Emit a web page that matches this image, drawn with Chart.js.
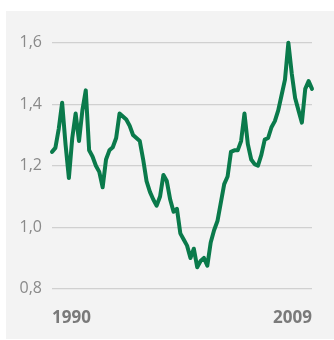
<!DOCTYPE html>
<html>
<head>
<meta charset="utf-8">
<script src="https://cdn.jsdelivr.net/npm/chart.js@4"></script>
<style>
  html, body { margin: 0; padding: 0; background: #ffffff; }
  #panel {
    position: absolute; left: 6px; top: 11px;
    width: 328px; height: 328px;
    background: #f3f3f3;
  }
  #chart { display: block; }
</style>
</head>
<body>
<div id="panel"><canvas id="chart" width="328" height="328"></canvas></div>
<script>
// Quarterly series, 1990 Q1 through 2009 Q2
const years = [1990, 2009];
const quarters = [];
for (let y = years[0]; y <= years[1]; y++) {
  for (let q = 1; q <= 4; q++) {
    if (y === years[1] && q > 2) break;
    quarters.push(y + ' Q' + q);
  }
}

const values = [
  1.245, 1.258, 1.32, 1.405, 1.27, 1.16, 1.29, 1.37, 1.28, 1.38,
  1.445, 1.25, 1.23, 1.20, 1.18, 1.13, 1.22, 1.25, 1.26, 1.29,
  1.37, 1.36, 1.35, 1.33, 1.30, 1.29, 1.28, 1.22, 1.15, 1.115,
  1.09, 1.07, 1.10, 1.17, 1.15, 1.09, 1.05, 1.06, 0.98, 0.96,
  0.94, 0.90, 0.93, 0.87, 0.89, 0.90, 0.875, 0.95, 0.99, 1.02,
  1.08, 1.14, 1.165, 1.245, 1.25, 1.25, 1.28, 1.37, 1.27, 1.22,
  1.205, 1.20, 1.235, 1.285, 1.29, 1.325, 1.345, 1.38, 1.43, 1.48,
  1.60, 1.50, 1.42, 1.38, 1.34, 1.45, 1.475, 1.45
];

const yTicks = [0.8, 1.0, 1.2, 1.4, 1.6];

new Chart(document.getElementById('chart'), {
  type: 'line',
  data: {
    labels: quarters,
    datasets: [{
      data: values,
      borderColor: '#0a7a4b',
      borderWidth: 4,
      pointRadius: 0,
      tension: 0,
      clip: false,
      borderJoinStyle: 'round',
      borderCapStyle: 'round'
    }]
  },
  options: {
    responsive: false,
    animation: false,
    events: [],
    layout: { padding: { top: 31.7, right: 22, bottom: 0, left: 0 } },
    plugins: { legend: { display: false }, tooltip: { enabled: false } },
    scales: {
      x: {
        type: 'category',
        offset: false,
        border: { display: false },
        grid: { display: false, drawTicks: false },
        afterBuildTicks: (axis) => {
          const last = quarters.length - 1;
          axis.ticks = [{ value: 0 }, { value: last }];
        },
        afterFit: (axis) => { axis.height = 50.3; },
        ticks: {
          autoSkip: false,
          maxRotation: 0,
          align: 'inner',
          padding: 19,
          color: '#7a7a7a',
          font: { family: 'Open Sans', size: 17, weight: 'bold' },
          callback: (v, i, ticks) => quarters[v].slice(0, 4)
        }
      },
      y: {
        min: 0.8,
        max: 1.6,
        border: { display: false },
        grid: { color: '#d0d0d0', lineWidth: 1.3, drawTicks: false },
        afterBuildTicks: (axis) => { axis.ticks = yTicks.map(v => ({ value: v })); },
        afterFit: (axis) => { axis.width = 46; },
        ticks: {
          padding: 10,
          color: '#8a8a8a',
          font: { family: 'Open Sans', size: 16 },
          callback: (v) => v.toFixed(1).replace('.', ',')
        }
      }
    }
  }
});
</script>
</body>
</html>
